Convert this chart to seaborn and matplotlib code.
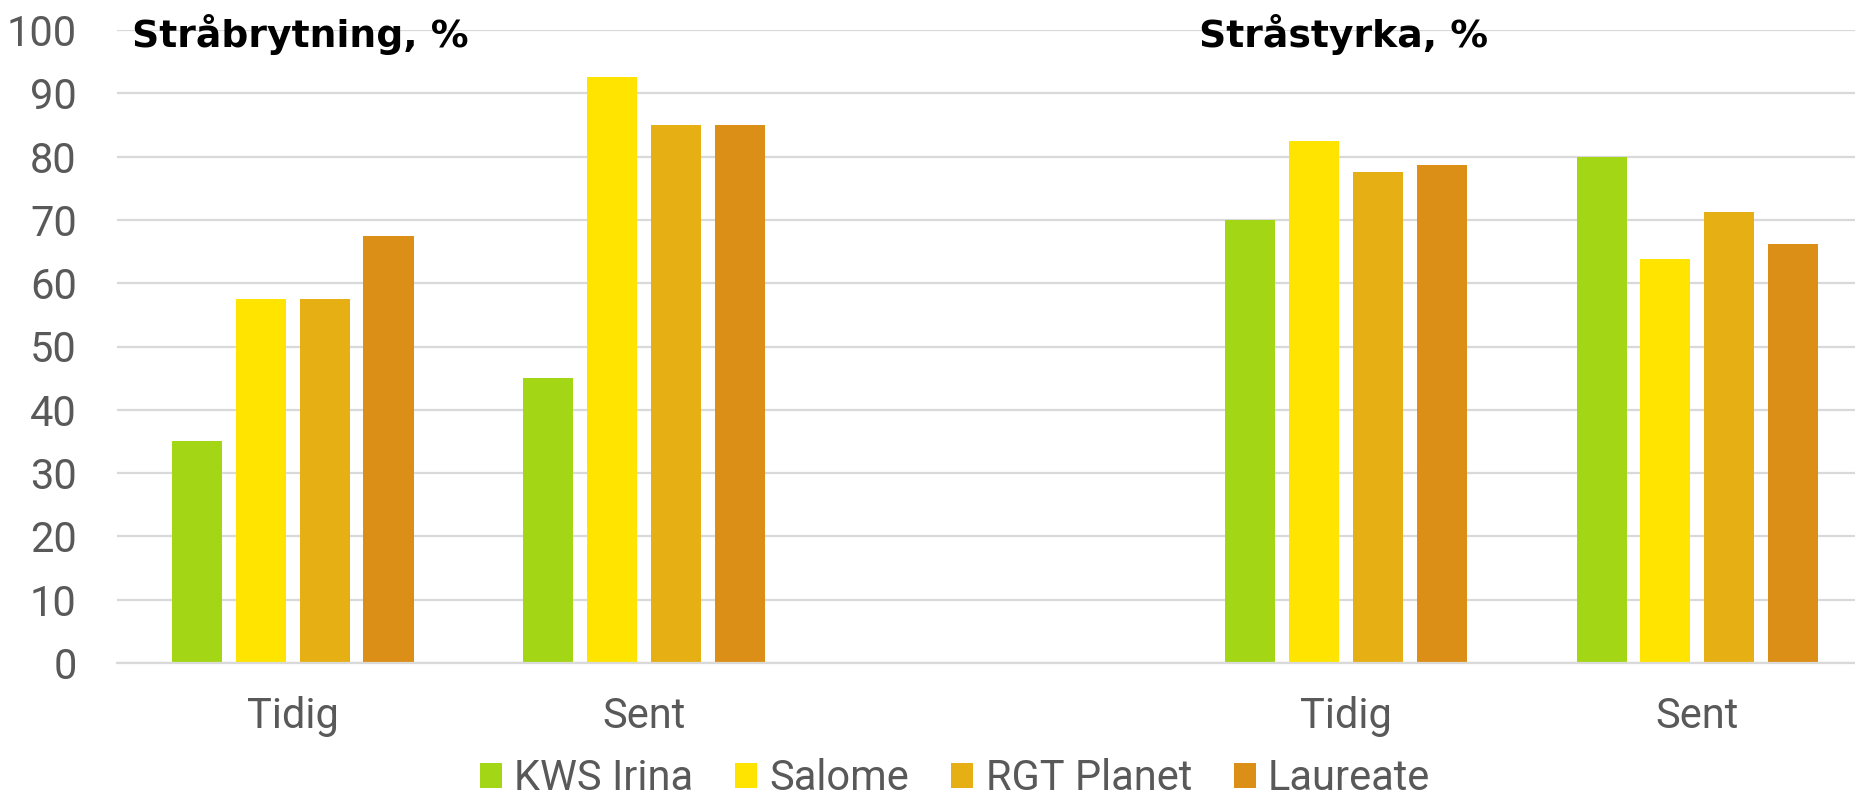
import matplotlib
matplotlib.use("Agg")
import matplotlib.pyplot as plt
import pandas as pd
import seaborn as sns

# data
sorter = ["KWS Irina", "Salome", "RGT Planet", "Laureate"]
grupper = ["Stråbrytning Tidig", "Stråbrytning Sent", "", "Stråstyrka Tidig", "Stråstyrka Sent"]
tick_labels = ["Tidig", "Sent", "", "Tidig", "Sent"]
brytning_tidig = [35, 57.5, 57.5, 67.5]
brytning_sent = [45, 92.5, 85, 85]
styrka_tidig = [70, 82.5, 77.5, 78.75]
styrka_sent = [80, 63.75, 71.25, 66.25]
titlar = ["Stråbrytning, %", "Stråstyrka, %"]

farger = ["#A3D615", "#FFE400", "#E6AF13", "#DC8F17"]

rows = []
for grupp, vals in zip(["Stråbrytning Tidig", "Stråbrytning Sent", "Stråstyrka Tidig", "Stråstyrka Sent"],
                       [brytning_tidig, brytning_sent, styrka_tidig, styrka_sent]):
    for sort, v in zip(sorter, vals):
        rows.append({"grupp": grupp, "sort": sort, "varde": v})
df = pd.DataFrame(rows)

sns.set_style("whitegrid")
plt.rcParams['font.family'] = ['Roboto', 'DejaVu Sans']

fig = plt.figure(figsize=(18.56, 8.01), dpi=100)
ax = fig.add_axes([117 / 1856, 1 - 663 / 801, 1 - 117 / 1856, (663 - 30) / 801])

sns.barplot(data=df, x="grupp", y="varde", hue="sort", order=grupper, hue_order=sorter,
            palette=farger, saturation=1, width=0.728, gap=0.217, ax=ax, linewidth=0)

ax.set_xlim(-0.5, 4.5 - 17 / 351)
ax.set_ylim(0, 100)
ax.set_yticks(range(0, 101, 10))
ax.set_xticks(range(5))
ax.set_xticklabels(tick_labels)
ax.set_xlabel("")
ax.set_ylabel("")
ax.grid(axis="x", visible=False)
ax.grid(axis="y", color="#D9D9D9", linewidth=1.6)
ax.set_axisbelow(True)
for s in ["top", "right", "left"]:
    ax.spines[s].set_visible(False)
ax.spines["bottom"].set_color("#D9D9D9")
ax.spines["bottom"].set_linewidth(1.6)
ax.tick_params(axis="y", length=0, pad=29, labelsize=30, labelcolor="#595959")
ax.tick_params(axis="x", length=0, pad=24, labelsize=30, labelcolor="#595959")

ax.text(-0.456, 97.3, titlar[0], fontsize=27.2, fontweight="bold", family="DejaVu Sans",
        va="baseline", ha="left", color="black")
ax.text(2.58, 97.3, titlar[1], fontsize=27.2, fontweight="bold", family="DejaVu Sans",
        va="baseline", ha="left", color="black")

handles, labels = ax.get_legend_handles_labels()
ax.legend_.remove()
fig.legend(handles, labels, loc="center", bbox_to_anchor=(955 / 1856, 1 - 779 / 801),
           ncol=4, frameon=False, fontsize=30, labelcolor="#595959",
           handlelength=0.53, handleheight=0.53, handletextpad=0.3, columnspacing=1.0,
           borderpad=0, borderaxespad=0)

fig.savefig("out.png", dpi=100)
